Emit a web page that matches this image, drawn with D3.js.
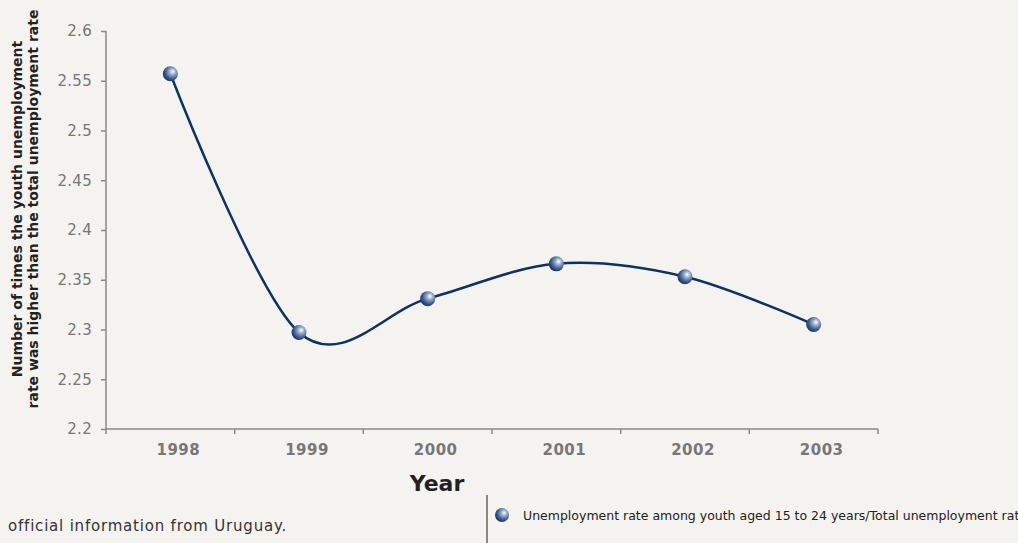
<!DOCTYPE html>
<html>
<head>
<meta charset="utf-8">
<script src="https://cdn.jsdelivr.net/npm/d3@7"></script>
<style>
  html, body { margin: 0; padding: 0; background: #f4f3f0; }
  svg { display: block; }
</style>
</head>
<body>
<svg id="chart" width="1018" height="543"></svg>
<script>
// Youth / total unemployment ratio, Uruguay
const years = ["1998", "1999", "2000", "2001", "2002", "2003"];
const ratios = [2.557, 2.297, 2.331, 2.366, 2.353, 2.305];
const yTicks = [2.2, 2.25, 2.3, 2.35, 2.4, 2.45, 2.5, 2.55, 2.6];
const yTitleLines = ["Number of times the youth unemployment", "rate was higher than the total unemployment rate"];
const xTitle = "Year";
const sourceNote = "official information from Uruguay.";
const legendLabel = "Unemployment rate among youth aged 15 to 24 years/Total unemployment rate";

const svg = d3.select("#chart");
const font = "Verdana, 'DejaVu Sans', sans-serif";
const plotLeft = 106, plotRight = 878, plotTop = 31, plotBottom = 429;

const x = d3.scaleBand().domain(years).range([plotLeft, plotRight]);
const y = d3.scaleLinear().domain([2.2, 2.6]).range([plotBottom, plotTop]);

// gradient for the sphere markers
const defs = svg.append("defs");
const grad = defs.append("radialGradient").attr("id", "ball")
  .attr("cx", "62%").attr("cy", "38%").attr("r", "65%").attr("fx", "66%").attr("fy", "34%");
grad.append("stop").attr("offset", "0%").attr("stop-color", "#ffffff");
grad.append("stop").attr("offset", "35%").attr("stop-color", "#8fa6c8");
grad.append("stop").attr("offset", "75%").attr("stop-color", "#34568a");
grad.append("stop").attr("offset", "100%").attr("stop-color", "#1b355f");

// y axis
const yAxis = svg.append("g").attr("transform", `translate(${plotLeft},0)`)
  .call(d3.axisLeft(y).tickValues(yTicks).tickFormat(d3.format("")).tickSize(5).tickPadding(9));
yAxis.select(".domain").attr("stroke", "#888").attr("stroke-width", 1.5).attr("d", `M0,${plotTop}V${plotBottom}`);
yAxis.selectAll(".tick line").attr("stroke", "#888").attr("stroke-width", 1.5);
yAxis.selectAll(".tick text").attr("fill", "#777").attr("font-family", font).attr("font-size", 15)
  .attr("letter-spacing", 0.3);

// x axis with ticks at band boundaries
const xg = svg.append("g").attr("transform", `translate(0,${plotBottom})`);
xg.append("line").attr("x1", plotLeft).attr("x2", plotRight).attr("stroke", "#888").attr("stroke-width", 1.5);
const bounds = years.map(d => x(d)).concat([plotRight]);
xg.selectAll("line.tk").data(bounds).join("line").attr("class", "tk")
  .attr("x1", d => d).attr("x2", d => d).attr("y1", 0).attr("y2", 5)
  .attr("stroke", "#888").attr("stroke-width", 1.5);
xg.selectAll("text").data(years).join("text")
  .attr("x", d => x(d) + x.bandwidth() / 2 + 8).attr("y", 26)
  .attr("text-anchor", "middle").attr("fill", "#777")
  .attr("font-family", font).attr("font-weight", "bold").attr("font-size", 15)
  .attr("letter-spacing", 0.5)
  .text(d => d);

// axis titles
svg.append("text").attr("x", 437).attr("y", 491).attr("text-anchor", "middle")
  .attr("font-family", font).attr("font-weight", "bold").attr("font-size", 22).attr("fill", "#222")
  .text(xTitle);
const yt = svg.append("text").attr("transform", "translate(22,209) rotate(-90)")
  .attr("text-anchor", "middle").attr("font-family", font).attr("font-weight", "bold")
  .attr("font-size", 14).attr("fill", "#222");
yTitleLines.forEach((t, i) => yt.append("tspan").attr("x", 0).attr("dy", i === 0 ? 0 : 16).text(t));

// curve (uniform Catmull-Rom through the yearly points)
const pts = years.map((d, i) => [x(d) + x.bandwidth() / 2, y(ratios[i])]);
svg.append("path").attr("d", d3.line().curve(d3.curveCatmullRom.alpha(0))(pts))
  .attr("fill", "none").attr("stroke", "#0c3364").attr("stroke-width", 2.5);

svg.selectAll("circle.pt").data(pts).join("circle").attr("class", "pt")
  .attr("cx", d => d[0]).attr("cy", d => d[1]).attr("r", 7.5).attr("fill", "url(#ball)");

// footer: source note and legend
svg.append("text").attr("x", 8).attr("y", 531).attr("font-family", font).attr("font-size", 15)
  .attr("letter-spacing", 0.8).attr("fill", "#333").text(sourceNote);
svg.append("line").attr("x1", 487).attr("x2", 487).attr("y1", 495).attr("y2", 543)
  .attr("stroke", "#888").attr("stroke-width", 2);
svg.append("circle").attr("cx", 502).attr("cy", 515).attr("r", 7).attr("fill", "url(#ball)");
svg.append("text").attr("x", 523).attr("y", 520).attr("font-family", font).attr("font-size", 12.5)
  .attr("fill", "#222").text(legendLabel);
</script>
</body>
</html>
